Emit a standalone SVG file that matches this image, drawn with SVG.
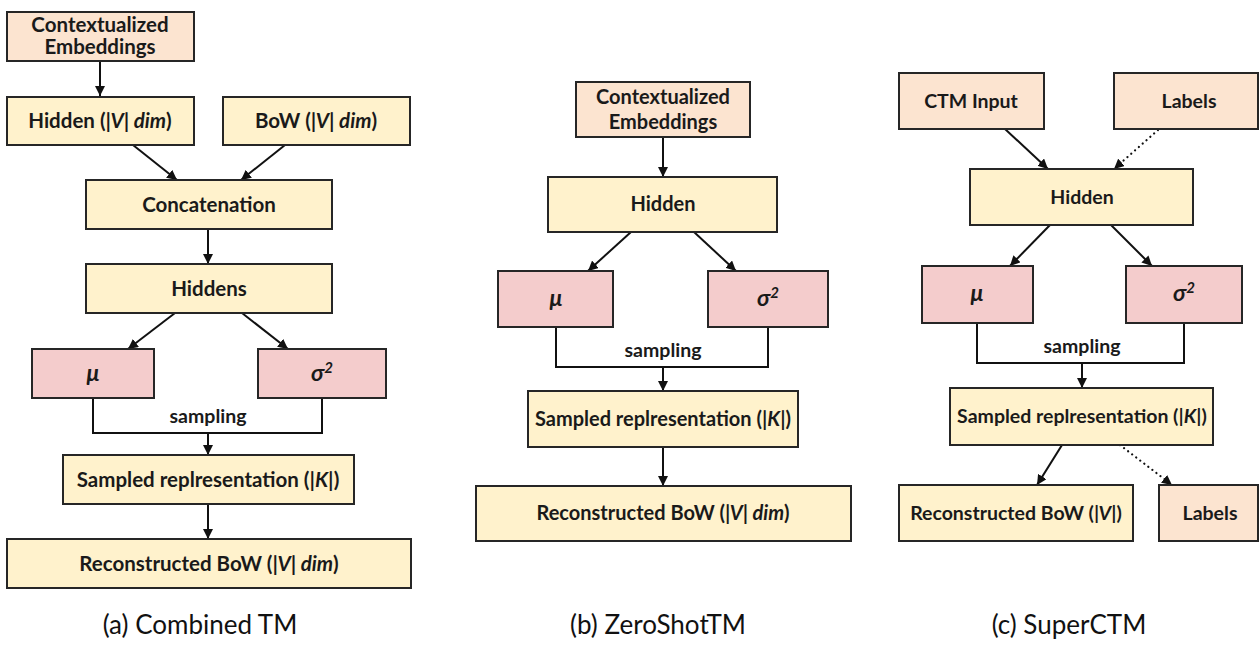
<svg xmlns="http://www.w3.org/2000/svg" width="1260" height="645" viewBox="0 0 1260 645">
<defs>
<marker id="ah" viewBox="0 0 10 10" refX="10" refY="5" markerWidth="10" markerHeight="10" markerUnits="userSpaceOnUse" orient="auto">
<path d="M0,0 L10,5 L0,10 z" fill="#111"/>
</marker>
<style>
.peach{fill:#FCE4D0;stroke:#262626;stroke-width:2}
.yel{fill:#FFF2CC;stroke:#262626;stroke-width:2}
.pink{fill:#F4CCCC;stroke:#262626;stroke-width:2}
.t{font-family:Lato,"Liberation Sans",sans-serif;font-weight:bold;fill:#1a1a1a;text-anchor:middle}
.a{font-size:20.5px}
.b{font-size:20px}
.c{font-size:19.5px}
.s{font-size:19.5px}
.g{font-size:23px}
.cap{font-family:Lato,"Liberation Sans",sans-serif;font-size:26px;fill:#111;text-anchor:middle}
.i{font-style:italic}
.ln{fill:none;stroke:#111;stroke-width:2}
.ar{fill:none;stroke:#111;stroke-width:2;marker-end:url(#ah)}
.dt{fill:none;stroke:#111;stroke-width:2.2;stroke-dasharray:0.1,5;stroke-linecap:round;marker-end:url(#ah)}
</style>
</defs>
<rect width="1260" height="645" fill="#fff"/>

<g id="connectors">
<!-- panel a -->
<line class="ar" x1="100" y1="61" x2="100" y2="96"/>
<line class="ar" x1="133" y1="145" x2="177" y2="180"/>
<line class="ar" x1="285" y1="145" x2="241" y2="180"/>
<line class="ar" x1="208" y1="229" x2="208" y2="264"/>
<line class="ar" x1="175" y1="313" x2="128" y2="349"/>
<line class="ar" x1="242" y1="313" x2="288" y2="349"/>
<polyline class="ln" points="93,398 93,433 322,433 322,398"/>
<line class="ar" x1="208" y1="433" x2="208" y2="455"/>
<line class="ar" x1="208" y1="504" x2="208" y2="539"/>
<!-- panel b -->
<line class="ar" x1="663" y1="137" x2="663" y2="177"/>
<line class="ar" x1="631" y1="232" x2="588" y2="271"/>
<line class="ar" x1="694" y1="232" x2="736" y2="271"/>
<polyline class="ln" points="556,327 556,367 768,367 768,327"/>
<line class="ar" x1="663" y1="367" x2="663" y2="391"/>
<line class="ar" x1="663" y1="447" x2="663" y2="486"/>
<!-- panel c -->
<line class="ar" x1="1005" y1="129" x2="1048" y2="169"/>
<line class="dt" x1="1158" y1="130" x2="1114" y2="169"/>
<line class="ar" x1="1050" y1="225" x2="1010" y2="266"/>
<line class="ar" x1="1111" y1="225" x2="1152" y2="266"/>
<polyline class="ln" points="977,323 977,363 1184,363 1184,323"/>
<line class="ar" x1="1082" y1="363" x2="1082" y2="388"/>
<line class="ar" x1="1062" y1="445" x2="1037" y2="485"/>
<line class="dt" x1="1120" y1="445" x2="1172" y2="485"/>
</g>

<!-- panel a nodes -->
<g id="a-ctx"><rect class="peach" x="7" y="12" width="187" height="49"/>
<text class="t a" x="100" y="32">Contextualized</text><text class="t a" x="100" y="54">Embeddings</text></g>
<g id="a-hidden"><rect class="yel" x="7" y="97" width="187" height="48"/>
<text class="t a" x="100" y="128">Hidden (<tspan class="i">|V| dim</tspan>)</text></g>
<g id="a-bow"><rect class="yel" x="223" y="97" width="187" height="48"/>
<text class="t a" x="316" y="128">BoW (<tspan class="i">|V| dim</tspan>)</text></g>
<g id="a-concat"><rect class="yel" x="86" y="180" width="246" height="49"/>
<text class="t a" x="209" y="212">Concatenation</text></g>
<g id="a-hiddens"><rect class="yel" x="86" y="264" width="246" height="49"/>
<text class="t a" x="209" y="296">Hiddens</text></g>
<g id="a-mu"><rect class="pink" x="32" y="349" width="122" height="49"/>
<text class="t g i" x="93" y="381">μ</text></g>
<g id="a-sigma"><rect class="pink" x="258" y="349" width="128" height="49"/>
<text class="t g i" x="322" y="381">σ<tspan font-size="15" dy="-8">2</tspan></text></g>
<text class="t s" x="208" y="423">sampling</text>
<g id="a-sampled"><rect class="yel" x="63" y="455" width="291" height="49"/>
<text class="t a" x="208" y="487">Sampled replresentation (<tspan class="i">|K|</tspan>)</text></g>
<g id="a-recon"><rect class="yel" x="7" y="539" width="404" height="49"/>
<text class="t a" x="209" y="571">Reconstructed BoW (<tspan class="i">|V| dim</tspan>)</text></g>
<text class="cap" x="200" y="634">(a) Combined TM</text>

<!-- panel b nodes -->
<g id="b-ctx"><rect class="peach" x="576" y="82" width="174" height="55"/>
<text class="t b" x="663" y="104">Contextualized</text><text class="t b" x="663" y="129">Embeddings</text></g>
<g id="b-hidden"><rect class="yel" x="548" y="177" width="229" height="55"/>
<text class="t b" x="663" y="211">Hidden</text></g>
<g id="b-mu"><rect class="pink" x="498" y="271" width="115" height="56"/>
<text class="t g i" x="556" y="306">μ</text></g>
<g id="b-sigma"><rect class="pink" x="708" y="271" width="120" height="56"/>
<text class="t g i" x="768" y="306">σ<tspan font-size="15" dy="-8">2</tspan></text></g>
<text class="t s" x="663" y="357">sampling</text>
<g id="b-sampled"><rect class="yel" x="528" y="391" width="270" height="56"/>
<text class="t b" x="663" y="426">Sampled replresentation (<tspan class="i">|K|</tspan>)</text></g>
<g id="b-recon"><rect class="yel" x="476" y="486" width="375" height="55"/>
<text class="t b" x="663" y="520">Reconstructed BoW (<tspan class="i">|V| dim</tspan>)</text></g>
<text class="cap" x="658" y="634">(b) ZeroShotTM</text>

<!-- panel c nodes -->
<g id="c-input"><rect class="peach" x="899" y="73" width="145" height="56"/>
<text class="t c" x="971" y="108">CTM Input</text></g>
<g id="c-labels-in"><rect class="peach" x="1114" y="73" width="144" height="56"/>
<text class="t c" x="1189" y="108">Labels</text></g>
<g id="c-hidden"><rect class="yel" x="970" y="169" width="223" height="56"/>
<text class="t c" x="1082" y="204">Hidden</text></g>
<g id="c-mu"><rect class="pink" x="922" y="266" width="111" height="57"/>
<text class="t g i" x="977" y="301">μ</text></g>
<g id="c-sigma"><rect class="pink" x="1126" y="266" width="116" height="57"/>
<text class="t g i" x="1184" y="301">σ<tspan font-size="15" dy="-8">2</tspan></text></g>
<text class="t s" x="1082" y="353">sampling</text>
<g id="c-sampled"><rect class="yel" x="950" y="388" width="263" height="57"/>
<text class="t c" x="1082" y="423">Sampled replresentation (<tspan class="i">|K|</tspan>)</text></g>
<g id="c-recon"><rect class="yel" x="899" y="485" width="234" height="56"/>
<text class="t c" x="1016" y="520">Reconstructed BoW (<tspan class="i">|V|</tspan>)</text></g>
<g id="c-labels-out"><rect class="peach" x="1159" y="485" width="99" height="56"/>
<text class="t c" x="1210" y="520">Labels</text></g>
<text class="cap" x="1069" y="634">(c) SuperCTM</text>
</svg>
